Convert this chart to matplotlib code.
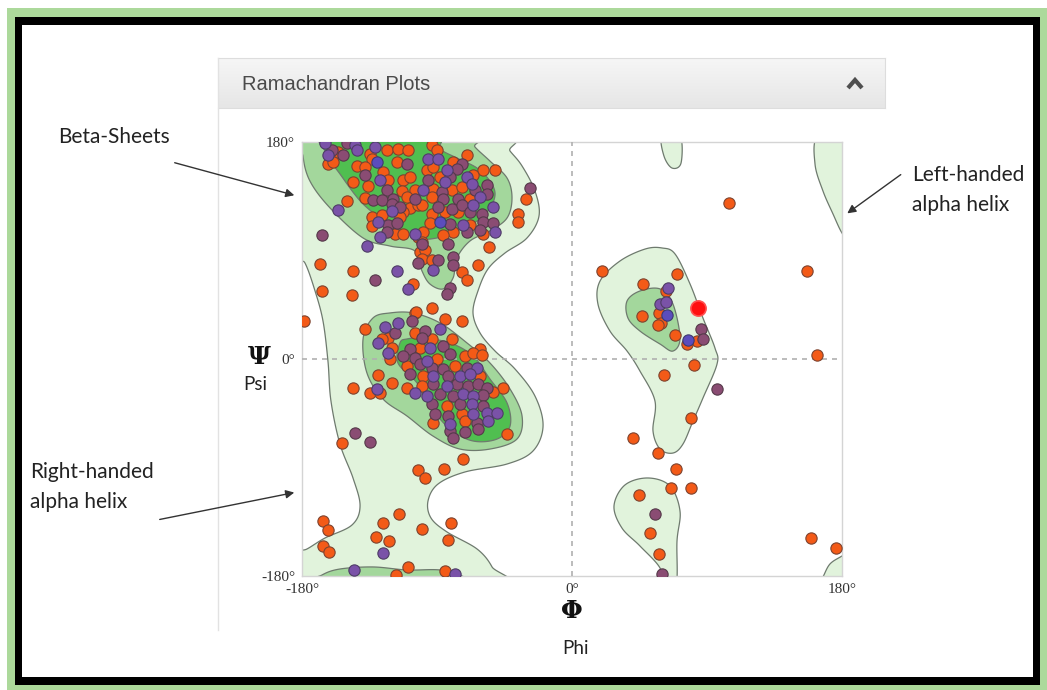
import numpy as np
import matplotlib
matplotlib.use("Agg")
import matplotlib.pyplot as plt
from matplotlib.patches import Rectangle, FancyArrowPatch, Polygon
from matplotlib.lines import Line2D

# ---------------- data (phi, psi in degrees) ----------------
orange_phi = [-156,-123.3,-116,-109.3,-134.7,-133.3,-162.7,-159.3,-143.3,-138,-116.7,-126,-122.7,-112.7,-108,-146,-136,-113.3,-104.7,-138,-110,-150,-108,-102.7,-112.7,-133.3,-126.7,-114.7,-133.3,-118,-112.7,-102.7,-101.3,-168,-146,-106,-93.3,-90,-70,-79.3,-96.7,-92.7,-59.3,-51.3,-88,-66,-92.7,-80,-73.3,-30.7,-93.3,-68,-100,-93.3,-84.7,-76,-36,-94.7,-68,-36,-79.3,-59.3,-99.3,-86,-100,-55.3,-98,-100,-93.3,-73.3,-70,-62.7,-104.7,-84.7,-73.3,-166.7,-146.7,-179,-138,-104,-93.3,-122.7,-126.7,-104.7,-93.3,-80,-120,-101.3,-90,-71.3,-61.3,-66,-60,-121.3,-110,-78,-129.3,-99.3,-61.3,-146,-120,-110,-100,-46,-134.7,-128,-52.7,-83.3,-73.3,-92.7,-71.3,-43.3,-153.3,-72.7,-102.7,-98,-85.3,-166,-162.7,-115.3,-126,-100,-80.7,-130.7,-122,-82.7,-166,-162,-109.3,-117.3,-84.7,163.3,81.3,61.3,79.3,40.7,57.3,69.3,66,79.3,44.7,52,58,159.3,176,104.7,20,70,47.3,156.7,62.7,46.7,58,59.3,57.3,68.7,83.3,76.7]
orange_psi = [171.7,173.4,174.2,173.4,170,165.9,161.8,163.4,160.1,159.3,163.4,155.1,148.5,148.5,151,146.8,143.5,139.4,140.2,133.6,134.4,131.1,125.3,127.7,121.9,117.8,119.4,117.8,110.3,103.7,103.7,101.2,88.8,78.8,73,62.2,177.5,173.4,169.2,163.4,156.8,159.3,156.8,156.8,151,152.6,141,140.2,142.7,132.7,134.4,132.7,127.7,120.3,121.9,121.9,120.3,112.8,111.2,113.6,105.3,103.7,105.3,102.9,97.1,92.9,90.4,83,82.1,72.2,65.5,78,38.2,33.2,31.5,56.4,53.1,31.5,24.9,39,42.3,17.4,16.6,21.6,16.6,16.6,9.1,9.1,0,2.5,8.3,5,3.3,0,-5.8,-5.8,-13.3,-14.1,-14.1,-24.1,-19.9,-24.1,-22.4,-24.1,-28.2,-28.2,-27.4,-39,-45.6,-53.1,-51.4,-62.2,-69.7,-83,-92.1,-98.7,-91.2,-134.4,-141.8,-128.6,-136,-141,-136,-147.7,-151,-150.1,-155.1,-160.1,-172.5,-179,-175.8,3.3,-5,-13.3,-48.9,-65.5,-78,-91.2,-107,-107,-112.8,-144.3,-161.8,-148.5,-156.8,129.4,73,70.5,62.2,73,56.4,35.7,38.2,29.9,28.2,19.9,14.9,12.4]

purple_phi = [-164.7,-144.7,-143.3,-162.7,-131.3,-128,-99.3,-156,-120,-129.3,-128,-104.7,-136.7,-116.7,-96,-89.3,-83.3,-70,-84.7,-66.7,-61.3,-66,-52.7,-72.7,-51.3,-92.7,-109.3,-116,-124.7,-129.3,-88,-122.7,-94.7,-96.7,-63.3,-92.7,-74.7,-68,-83.3,-130,-104.7,-96.7,-72.7,-66,-66.7,-66,-56.7,-50,-81.3,-56,-126,-145.3,-78,64,58.7,62.7]
purple_psi = [179,177.5,173.4,169.2,175.9,148.5,140.2,123.6,122.8,113.6,101.2,103.7,93.7,73,165.9,165.9,156.8,151,146.8,145.2,134.4,127.7,126.1,111.2,105.3,73.8,58.1,29.9,26.5,13.3,24.9,5,9.1,-1.7,-7.5,-14.1,-14.1,-12.4,-22.4,-24.9,-28.2,-30.7,-29,-30.7,-37.3,-45.6,-44.8,-44.8,-53.9,-51.4,-160.9,-175,-178.3,58.9,45.6,47.3]

mauve_phi = [-150,-160,-152.7,-110,-138,-123.3,-132.7,-126.7,-119.3,-104.7,-120,-114.7,-122.7,-116.7,-123.3,-100,-166.7,-102.7,-131.3,-73.3,-76.7,-81.3,-96,-56.7,-28,-86.7,-64.7,-56.7,-86,-76,-89.3,-80,-73.3,-68,-60,-81.3,-59.3,-52.7,-70,-61.3,-82.7,-79.3,-89.3,-79.3,-81.3,-83.3,-106.7,-118,-98,-100,-86,-108,-112.7,-104.7,-81.3,-101.3,-93.3,-86,-70,-108,-82.7,-92.7,-76.7,-69.3,-62.7,-56.7,-88,-79.3,-59.3,-93.3,-74.7,-59.3,-91.3,-82.7,-63.3,-81.3,-71.3,-62.7,-79.3,-144.7,-134.7,96.7,55.3,60,86,87.3]
mauve_psi = [179,173.4,169.2,161.8,152.6,140.2,131.9,131.9,132.7,132.7,128.6,126.1,111.2,112.8,105.3,95.4,102.9,79.6,65.5,161.8,157.6,151,148.5,144.3,141.8,138.5,140.2,136.9,132.7,132.7,126.1,124.4,127.7,121.9,120.3,112,113.6,112.8,105.3,107,95.4,84.6,82.1,78,58.9,53.9,31.5,21.6,23.2,17.4,10.8,8.3,2.5,0.8,4.1,-4.1,-7.5,-8.3,-7.5,-12.4,-14.1,-20.7,-20.7,-22.4,-20.7,-24.1,-29,-30.7,-29.9,-37.3,-37.3,-39,-45.6,-47.3,-53.1,-59.7,-60.6,-58.1,-65.5,-61.4,-68.8,-24.9,-128.6,-178.3,24.9,16.6]

blue_phi = [-130,-88,63.3,77.3]
blue_psi = [163.4,113.6,36.5,15.8]

outlier_phi = [84]
outlier_psi = [42.3]

# region outlines (phi, psi), levels: 0 allowed, 1 favoured, 2 core
regions = [
    (0, [-185,-49.3,-41.3,-33.3,-24.7,-22,-30,-44.7,-56,-62.7,-66,-61.3,-51.3,-38,-24.7,-19.3,-26,-43.3,-71.3,-89.3,-96,-94,-83.3,-63.3,-53.3,-50,-185,-185,-176.7,-164.7,-146.7,-141.3,-146,-154.7,-160.7,-162.7,-166,-171.3,-178,-185],
        [185,185,172.5,160.1,139.4,118.6,100.4,87.9,74.7,56.4,38.2,21.6,6.6,-8.3,-30.7,-55.6,-76.3,-87.1,-93.7,-103.7,-117.8,-131.9,-143.5,-157.6,-172.5,-188,-188,-161.8,-157.6,-148.5,-137.7,-121.9,-98.7,-70.5,-34.8,-1.7,31.5,56.4,79.6,89.6]),
    (0, [18.7,32,48.7,60,68.7,78.7,87.3,95.3,96.7,87.3,80.7,74,67.3,58.7,54,55.3,45.3,36.7,25.3,17.3],
        [64.7,81.3,91.2,92.1,87.1,62.2,34,9.1,-4.1,-32.4,-51.4,-70.5,-78,-74.7,-59.7,-34.8,-10,6.6,23.2,45.6]),
    (0, [28,35.3,50.7,65.3,72,70,69.3,60,58.7,45.3,33.3],
        [-121.9,-104.5,-98.7,-105.3,-126.1,-151,-188,-188,-173.4,-155.1,-140.2]),
    (0, [60,61.3,66.7,72.7,72], [185,168.4,158.4,162.6,185]),
    (0, [164,162,167.3,174,180,185.3,185.3], [185,161.8,139.4,120.3,104.5,97.9,185]),
    (0, [164,167.3,172,180,185.3,185.3], [-188,-180.8,-170,-163.4,-159.3,-188]),
    (1, [-178,-179.3,-174.7,-161.3,-139.3,-121.3,-104.7,-100,-94.7,-86,-79.3,-76.7,-68,-54.7,-43.3,-40,-43.3,-54.7,-64.7,-69.3],
        [185,168.4,147.6,125.3,100.4,93.7,89.6,73,62.2,58.1,67.2,83.8,97.9,106.2,117,133.6,150.1,164.2,175.9,185]),
    (1, [-121.3,-132.7,-139.3,-136.7,-126,-110,-92.7,-74.7,-54.7,-36.7,-33.3,-41.3,-54.7,-70,-88,-106],
        [38.2,34,16.6,-11.6,-33.2,-47.3,-63.9,-74.7,-74.7,-66.4,-47.3,-24.9,-3.3,13.3,29.9,38.2]),
    (1, [36.7,45.3,58.7,67.3,72,67.3,58.7,45.3,37.3], [48.1,56.4,58.1,45.6,17.4,6.6,12.4,23.2,34]),
    (1, [-174.7,-166.7,-154.7,-132.7,-110,-88,-73.3,-69.3], [-188,-179.2,-174.2,-172.5,-175,-175,-180,-188]),
    (2, [-162.7,-164,-154.7,-139.3,-121.3,-103.3,-90,-76.7,-63.3,-54.7,-51.3,-54.7,-63.3,-76.7,-88,-93.3],
        [185,170.9,153.5,128.6,112,100.4,100.4,106.2,114.5,125.3,136.9,147.6,158.4,166.7,174.2,185]),
    (2, [-114.7,-116,-103.3,-94.7,-81.3,-66,-50,-41.3,-43.3,-54.7,-66,-81.3,-99.3,-110],
        [13.3,-3.3,-19.9,-39,-58.1,-68,-66.4,-55.6,-36.5,-16.6,2.5,13.3,17.4,16.6]),
]

region_colors = ['#e1f3dc', '#a3d79c', '#50bf50']

# ---------------- helpers ----------------
def smooth_closed(xs, ys, n=18):
    P = np.column_stack([xs, ys]).astype(float)
    N = len(P)
    t = np.linspace(0, 1, n, endpoint=False)[:, None]
    out = []
    for i in range(N):
        p0, p1, p2, p3 = P[(i - 1) % N], P[i], P[(i + 1) % N], P[(i + 2) % N]
        pts = 0.5 * ((2 * p1) + (-p0 + p2) * t + (2 * p0 - 5 * p1 + 4 * p2 - p3) * t ** 2
                     + (-p0 + 3 * p1 - 3 * p2 + p3) * t ** 3)
        out.append(pts)
    return np.vstack(out)

W, H = 1047, 690
fig = plt.figure(figsize=(W / 100, H / 100), dpi=100)
fig.patch.set_facecolor('white')

def fx(x):
    return x / W

def fy(y):
    return 1 - y / H

def frect(x0, y0, x1, y1, **kw):
    r = Rectangle((fx(x0), fy(y1)), fx(x1) - fx(x0), fy(y0) - fy(y1), transform=fig.transFigure, **kw)
    fig.add_artist(r)
    return r

# frame: green glow + black border
frect(7, 8, 1047, 690, facecolor='#acd99b', edgecolor='none', zorder=0)
frect(15, 17, 1040, 685, facecolor='black', edgecolor='none', zorder=0)
frect(22, 25, 1033, 677, facecolor='white', edgecolor='none', zorder=0)

# panel header with gradient
hax = fig.add_axes([fx(218), fy(108), fx(885) - fx(218), fy(58) - fy(108)])
grad = np.linspace(0, 1, 50)[:, None]
hax.imshow(grad, aspect='auto', cmap=matplotlib.colors.LinearSegmentedColormap.from_list('g', ['#f6f6f6', '#e6e6e6']),
           extent=[0, 1, 0, 1], origin='upper')
hax.set_xlim(0, 1); hax.set_ylim(0, 1)
hax.set_xticks([]); hax.set_yticks([])
for s in hax.spines.values():
    s.set_color('#dddddd')
hax.spines['left'].set_visible(False)
fig.add_artist(Line2D([fx(218), fx(218)], [fy(58), fy(630)], transform=fig.transFigure, color='#e2e2e2', lw=1, zorder=1))
fig.text(fx(242), fy(84), 'Ramachandran Plots', fontsize=14.5, family='Liberation Sans', color='#4a4a4a', va='center', ha='left')
fig.add_artist(Line2D([fx(848), fx(855), fx(862)], [fy(88), fy(80), fy(88)], transform=fig.transFigure,
                      color='#4f4f4f', lw=3, solid_capstyle='butt', solid_joinstyle='miter', zorder=5))

# ---------------- main axes ----------------
ax = fig.add_axes([fx(302), fy(576), fx(842) - fx(302), fy(142) - fy(576)])
ax.set_xlim(-180, 180)
ax.set_ylim(-180, 180)
ax.set_facecolor('white')

for level, xs, ys in regions:
    pts = smooth_closed(xs, ys)
    ax.add_patch(Polygon(pts, closed=True, facecolor=region_colors[level], edgecolor='#6e7a6e',
                         lw=0.9, zorder=1 + level))

ax.axvline(0, color='#b0b0b0', lw=1.2, ls=(0, (3, 3)), zorder=5)
ax.axhline(0, color='#b0b0b0', lw=1.2, ls=(0, (3, 3)), zorder=5)

mk = dict(s=66, linewidths=0.8, zorder=6)
ax.scatter(orange_phi, orange_psi, c='#f35a17', edgecolors='#7d4430', **mk)
ax.scatter(mauve_phi, mauve_psi, c='#8a4c73', edgecolors='#553a4a', **mk)
ax.scatter(purple_phi, purple_psi, c='#7a52a8', edgecolors='#4e3d66', **mk)
ax.scatter(blue_phi, blue_psi, c='#5b4dbd', edgecolors='#3e3a70', **mk)
ax.scatter(outlier_phi, outlier_psi, c='#ff1010', s=120, edgecolors='#ff5050', linewidths=1.2, zorder=7)

for s in ax.spines.values():
    s.set_color('#d4d4d4')
    s.set_linewidth(1)

ax.set_xticks([-180, 0, 180])
ax.set_xticklabels(['-180°', '0°', '180°'])
ax.set_yticks([-180, 0, 180])
ax.set_yticklabels(['-180°', '0°', '180°'])
ax.tick_params(length=0, labelsize=11, pad=5)
for lab in ax.get_xticklabels() + ax.get_yticklabels():
    lab.set_family('Liberation Serif')
    lab.set_color('#333333')

# axis symbols
fig.text(fx(259), fy(357), 'Ψ', fontsize=18, family='DejaVu Serif', fontweight='bold', color='#111111', ha='center', va='center')
fig.text(fx(255), fy(384), 'Psi', fontsize=13.5, family='Lato', color='#222222', ha='center', va='center')
fig.text(fx(572), fy(611), 'Φ', fontsize=18, family='DejaVu Serif', fontweight='bold', color='#111111', ha='center', va='center')
fig.text(fx(575), fy(648), 'Phi', fontsize=13.5, family='Lato', color='#222222', ha='center', va='center')

# annotations
ann = dict(fontsize=15, family='Lato', color='#222222', va='center', ha='left')
fig.text(fx(58), fy(137), 'Beta-Sheets', **ann)
fig.text(fx(30), fy(472), 'Right-handed', **ann)
fig.text(fx(30), fy(502), 'alpha helix', **ann)
fig.text(fx(912), fy(175), 'Left-handed', **ann)
fig.text(fx(912), fy(205), 'alpha helix', **ann)

def arrow(x0, y0, x1, y1):
    a = FancyArrowPatch((fx(x0), fy(y0)), (fx(x1), fy(y1)), transform=fig.transFigure,
                        arrowstyle='-|>,head_length=5,head_width=2.5', color='#333333', lw=1, zorder=10)
    fig.add_artist(a)

arrow(172, 162, 297, 196)
arrow(157, 520, 297, 492)
arrow(903, 173, 845, 215)

fig.savefig('out.png', dpi=100)
